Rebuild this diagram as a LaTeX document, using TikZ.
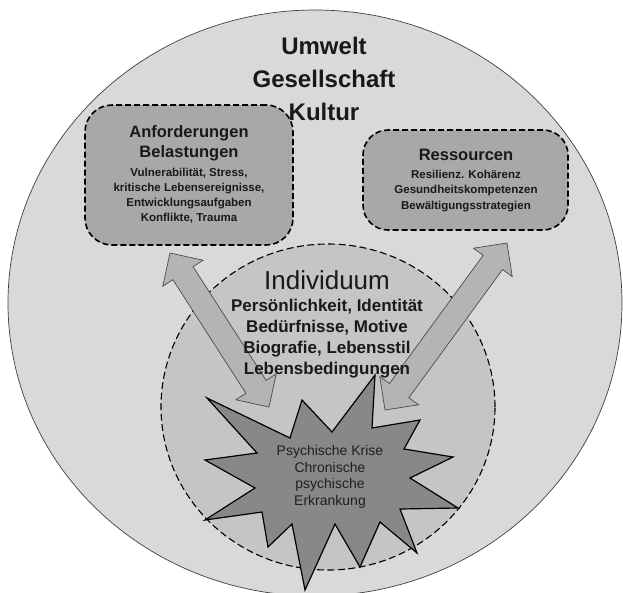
\documentclass[tikz,border=0pt]{standalone}
\usepackage{fontspec}
\setmainfont{Liberation Sans}
\usetikzlibrary{calc,shapes.geometric}
\definecolor{outerfill}{RGB}{217,217,217}
\definecolor{boxfill}{RGB}{168,168,168}
\definecolor{innerfill}{RGB}{197,197,197}
\definecolor{arrowfill}{RGB}{180,180,180}
\definecolor{starfill}{RGB}{136,136,136}
\definecolor{txt}{RGB}{25,25,25}
\newcommand{\dblarr}[2]{%
  \filldraw[arrowstyle] (#1)
    -- ($(#1)!24pt!(#2)!24pt!90:(#2)$)
    -- ($(#1)!24pt!(#2)!12pt!90:(#2)$)
    -- ($(#2)!24pt!(#1)!12pt!-90:(#1)$)
    -- ($(#2)!24pt!(#1)!24pt!-90:(#1)$)
    -- (#2)
    -- ($(#2)!24pt!(#1)!24pt!90:(#1)$)
    -- ($(#2)!24pt!(#1)!12pt!90:(#1)$)
    -- ($(#1)!24pt!(#2)!12pt!-90:(#2)$)
    -- ($(#1)!24pt!(#2)!24pt!-90:(#2)$)
    -- cycle;}
\begin{document}
\begin{tikzpicture}[x=1pt,y=-1pt,
  outerstyle/.style={ellipse, draw=black!75, line width=0.7pt, fill=outerfill, inner sep=0pt},
  boxstyle/.style={draw=black, fill=boxfill, line width=1.6pt, dash pattern=on 6pt off 3pt, rounded corners=27pt, inner sep=0pt},
  innerstyle/.style={ellipse, draw=black, fill=innerfill, line width=1.1pt, dash pattern=on 7pt off 3.5pt, inner sep=0pt},
  arrowstyle/.style={draw=black!70, fill=arrowfill, line width=0.7pt, line join=miter},
  starstyle/.style={draw=black, fill=starfill, line width=1.2pt, line join=miter},
  txtstyle/.style={text=txt, align=center, inner sep=0pt}]
\useasboundingbox (0,0) rectangle (623,592);
\begin{scope}
\clip (0,0) rectangle (623,592);
\node[outerstyle, minimum width=614pt, minimum height=586pt] (umwelt) at (315,303) {};
\end{scope}
% boxes
\node[boxstyle, minimum width=208pt, minimum height=140pt] (anf) at (189,175) {};
\node[boxstyle, minimum width=205pt, minimum height=100pt, rounded corners=25pt] (res) at (465.5,180) {};
% inner circle
\node[innerstyle, minimum width=334pt, minimum height=326pt] (indiv) at (328,407) {};
% arrows
\coordinate (la1) at (170,253);
\coordinate (la2) at (269,407);
\coordinate (ra1) at (507,243);
\coordinate (ra2) at (385,410);
\dblarr{la1}{la2}
\dblarr{ra1}{ra2}
% star
\draw[starstyle] (375,375) -- (372,428) -- (420,420) -- (404,449) -- (453,457)
  -- (410,478) -- (458,508) -- (400,509) -- (417,553) -- (380,522) -- (360,567)
  -- (335,524) -- (305,590) -- (292,524) -- (268,547) -- (262,512) -- (205,520)
  -- (255,488) -- (205,460) -- (257,453) -- (207,398) -- (290,438) -- (302,400)
  -- (332,432) -- cycle;
\coordinate (starc) at (330,477);
% texts
\node[txtstyle, font=\fontsize{24}{33}\selectfont\bfseries] (ttitle) at (324,79) {Umwelt\\Gesellschaft\\Kultur};
\node[txtstyle, font=\fontsize{16.5}{20}\selectfont\bfseries] (tanf) at (189,143) {Anforderungen\\Belastungen};
\node[txtstyle, font=\fontsize{11.5}{15}\selectfont\bfseries] (tanfd) at (189,196) {Vulnerabilität, Stress,\\kritische Lebensereignisse,\\Entwicklungsaufgaben\\Konflikte, Trauma};
\node[txtstyle, font=\fontsize{16.5}{20}\selectfont\bfseries] (tres) at (466,155) {Ressourcen};
\node[txtstyle, font=\fontsize{11.5}{15.5}\selectfont\bfseries] (tresd) at (466,191) {Resilienz. Kohärenz\\Gesundheitskompetenzen\\Bewältigungsstrategien};
\node[txtstyle, font=\fontsize{26}{30}\selectfont] (tind) at (327,280) {Individuum};
\node[txtstyle, font=\fontsize{17}{21}\selectfont\bfseries] (tindd) at (327,339) {Persönlichkeit, Identität\\Bedürfnisse, Motive\\Biografie, Lebensstil\\Lebensbedingungen};
\node[txtstyle, text=black!88, font=\fontsize{14}{16.7}\selectfont] (tstar) at (starc) {Psychische Krise\\Chronische\\psychische\\Erkrankung};
\end{tikzpicture}
\end{document}
